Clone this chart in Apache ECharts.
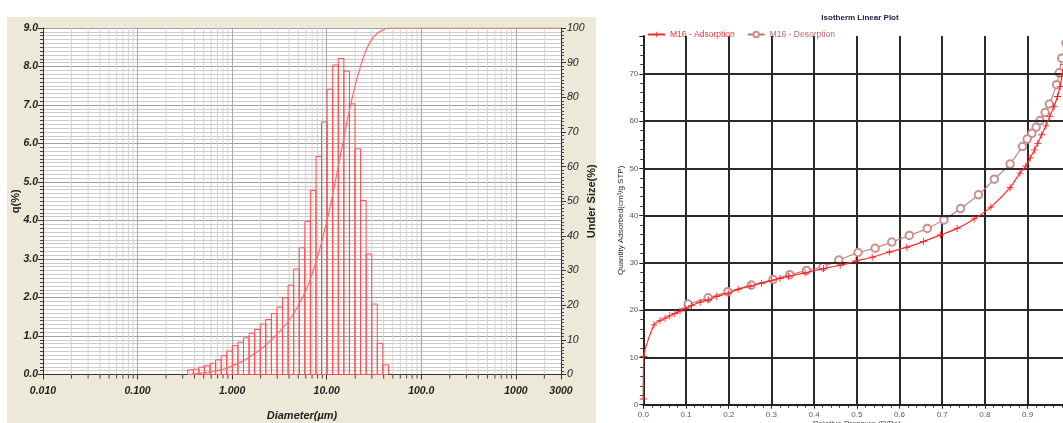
<!DOCTYPE html>
<html>
<head>
<meta charset="utf-8">
<script src="https://cdn.jsdelivr.net/npm/echarts@6/dist/echarts.min.js"></script>
<style>
  html, body { margin: 0; padding: 0; background: #fff; }
  #main { width: 1063px; height: 423px; }
</style>
</head>
<body>
<div id="main"></div>
<script>
// --- particle size distribution (left) ---
// bin edges in um (37 edges -> 36 bars)
var binEdges = [0.339, 0.389, 0.445, 0.510, 0.584, 0.669, 0.766, 0.877, 1.005, 1.151,
  1.318, 1.510, 1.729, 1.981, 2.269, 2.599, 2.976, 3.409, 3.905, 4.472, 5.122, 5.867,
  6.720, 7.697, 8.816, 10.097, 11.565, 13.246, 15.172, 17.377, 19.904, 22.797, 26.111,
  29.907, 34.255, 39.234, 44.938];
// q(%) per bin
var qValues = [0.12, 0.14, 0.19, 0.23, 0.29, 0.38, 0.49, 0.61, 0.75, 0.84, 0.95, 1.07,
  1.17, 1.31, 1.43, 1.58, 1.75, 1.99, 2.32, 2.74, 3.29, 3.97, 4.78, 5.66, 6.56, 7.41,
  8.04, 8.21, 7.88, 7.03, 5.86, 4.52, 3.13, 1.83, 0.81, 0.25];
// under size curve (%), read at the bin edges, then flat to 3000
var underX = [0.339, 0.389, 0.445, 0.510, 0.584, 0.669, 0.766, 0.877, 1.005, 1.151,
  1.318, 1.510, 1.729, 1.981, 2.269, 2.599, 2.976, 3.409, 3.905, 4.472, 5.122, 5.867,
  6.720, 7.697, 8.816, 10.097, 11.565, 13.246, 15.172, 17.377, 19.904, 22.797, 26.111,
  29.907, 34.255, 39.234, 44.938, 3000];
var underY = [0, 0.1, 0.3, 0.5, 0.7, 1.0, 1.4, 1.8, 2.5, 3.2, 4.0, 5.0, 6.1, 7.2, 8.5,
  10.0, 11.6, 13.3, 15.3, 17.6, 20.4, 23.6, 27.6, 32.4, 38.1, 44.6, 52.0, 60.1, 68.3,
  76.2, 83.2, 89.0, 93.6, 96.7, 98.5, 99.4, 100, 100];
var xTickLabels = { '0.01': '0.010', '0.1': '0.100', '1': '1.000', '10': '10.00',
  '100': '100.0', '1000': '1000', '3000': '3000' };
var decades = [0.01, 0.1, 1, 10, 100, 1000];

// --- isotherm (right) ---
var adsP = [0.000, 0.001, 0.025, 0.039, 0.051, 0.062, 0.074, 0.086, 0.098, 0.113, 0.133,
  0.152, 0.172, 0.199, 0.222, 0.250, 0.277, 0.301, 0.320, 0.340, 0.379, 0.422, 0.461,
  0.498, 0.536, 0.576, 0.617, 0.656, 0.696, 0.735, 0.775, 0.814, 0.859, 0.882, 0.896,
  0.906, 0.916, 0.924, 0.933, 0.943, 0.952, 0.962, 0.970, 0.976, 0.980, 0.985, 0.990];
var adsV = [1.2, 10.2, 16.9, 17.8, 18.3, 18.8, 19.3, 19.8, 20.4, 21.0, 21.7, 22.2, 22.9,
  23.6, 24.4, 25.1, 25.7, 26.3, 26.7, 27.2, 27.9, 28.8, 29.5, 30.4, 31.2, 32.3, 33.3,
  34.5, 35.9, 37.3, 39.3, 41.8, 45.9, 49.0, 50.5, 52.2, 53.9, 55.3, 57.1, 59.0, 61.0,
  63.1, 65.2, 67.3, 69.4, 72.0, 75.0];
var desP = [0.990, 0.980, 0.974, 0.968, 0.951, 0.941, 0.929, 0.920, 0.910, 0.899, 0.888,
  0.859, 0.822, 0.785, 0.743, 0.704, 0.665, 0.623, 0.582, 0.543, 0.503, 0.458, 0.421,
  0.382, 0.343, 0.304, 0.253, 0.198, 0.152, 0.105];
var desV = [76.5, 73.3, 70.2, 67.7, 63.6, 61.8, 60.1, 58.7, 57.4, 56.2, 54.6, 50.9, 47.7,
  44.4, 41.5, 39.1, 37.3, 35.8, 34.4, 33.1, 32.2, 30.6, 29.2, 28.4, 27.5, 26.5, 25.3,
  23.9, 22.6, 21.3];
var isoYTicks = [10, 20, 30, 40, 50, 60, 70];

function pairs(xs, ys) {
  var out = [];
  for (var i = 0; i < xs.length; i++) out.push([xs[i], ys[i]]);
  return out;
}

var barData = [];
for (var i = 0; i < qValues.length; i++) {
  barData.push([binEdges[i], binEdges[i + 1], qValues[i]]);
}

// minor log grid positions 2..9 x each decade
var minorX = [];
decades.forEach(function (d) {
  for (var k = 2; k <= 9; k++) {
    if (d * k < 3000) minorX.push([d * k]);
  }
});

var chart = echarts.init(document.getElementById('main'), null, { renderer: 'canvas' });

var leftFont = 'Liberation Sans, Arial, sans-serif';
var rightFont = 'Liberation Sans, Arial, sans-serif';

var option = {
  animation: false,
  backgroundColor: '#fff',
  graphic: [{
    type: 'rect', z: -100, silent: true,
    shape: { x: 7, y: 17, width: 589, height: 406 },
    style: { fill: '#ece9d8' }
  }, {
    type: 'rect', z: -90, silent: true,
    shape: { x: 43, y: 28, width: 518, height: 346.5 },
    style: { fill: '#ffffff' }
  }],
  title: {
    text: 'Isotherm Linear Plot',
    left: 855, top: 9, textAlign: 'center',
    textStyle: { fontSize: 8, fontWeight: 'bold', color: '#1c1c3c', fontFamily: rightFont }
  },
  legend: {
    left: 642, top: 25,
    itemWidth: 17, itemHeight: 7, itemGap: 12,
    textStyle: { fontSize: 8.5, fontFamily: rightFont },
    data: [
      { name: 'M16 - Adsorption', textStyle: { color: '#e83a3a' } },
      { name: 'M16 - Desorption', textStyle: { color: '#b46a6a' } }
    ]
  },
  grid: [
    { left: 43, width: 518, top: 28, height: 346.5, outerBoundsMode: 'none' },
    { left: 643.3, width: 427, top: 36, height: 368.7, outerBoundsMode: 'none' }
  ],
  xAxis: [{
    gridIndex: 0, type: 'log', logBase: 10, min: 0.01, max: 3000,
    axisLine: { lineStyle: { color: '#333', width: 1 } },
    axisTick: { length: 5, lineStyle: { color: '#333' } },
    axisLabel: {
      margin: 11, fontSize: 10.5, fontStyle: 'italic', fontWeight: 'bold', color: '#222',
      fontFamily: leftFont, showMaxLabel: true,
      formatter: function (v) {
        var key = String(Math.round(v * 1000) / 1000);
        return xTickLabels[key] !== undefined ? xTickLabels[key] : '';
      }
    },
    splitLine: { show: true, lineStyle: { color: '#a8a8a8', width: 1 } },
    name: 'Diameter(\u00b5m)', nameLocation: 'middle', nameGap: 36, nameMoveOverlap: false,
    nameTextStyle: { fontSize: 11, fontStyle: 'italic', fontWeight: 'bold', color: '#222', fontFamily: leftFont }
  }, {
    gridIndex: 1, type: 'value', min: 0, max: 1.0, interval: 0.1,
    axisLine: { lineStyle: { color: '#222', width: 2 } },
    axisTick: { length: 4, lineStyle: { color: '#222' } },
    minorTick: { show: true, splitNumber: 5, length: 3, lineStyle: { color: '#333' } },
    axisLabel: {
      margin: 6, fontSize: 8, color: '#5a5a4a', fontFamily: rightFont,
      formatter: function (v) { return v.toFixed(1); }
    },
    splitLine: { show: true, lineStyle: { color: '#2a2a2a', width: 2 } },
    name: 'Relative Pressure (P/Po)', nameLocation: 'middle', nameGap: 15, nameMoveOverlap: false,
    nameTextStyle: { fontSize: 8, color: '#444', fontFamily: rightFont }
  }],
  yAxis: [{
    gridIndex: 0, type: 'value', min: 0, max: 9, interval: 1,
    axisLine: { show: true, lineStyle: { color: '#333' } },
    axisTick: { length: 5, lineStyle: { color: '#333' } },
    minorTick: { show: true, splitNumber: 10, length: 3, lineStyle: { color: '#444' } },
    axisLabel: {
      margin: 5, fontSize: 10.5, fontStyle: 'italic', fontWeight: 'bold', color: '#222',
      fontFamily: leftFont, formatter: function (v) { return v.toFixed(1); }
    },
    splitLine: { show: true, lineStyle: { color: '#a0a0a0', width: 1 } },
    minorSplitLine: { show: true, lineStyle: { color: '#cdcdcd', width: 1 } },
    name: 'q(%)', nameLocation: 'middle', nameGap: 22, nameRotate: 90, nameMoveOverlap: false,
    nameTextStyle: { fontSize: 11, fontWeight: 'bold', color: '#222', fontFamily: leftFont }
  }, {
    gridIndex: 0, type: 'value', position: 'right', min: 0, max: 100, interval: 10,
    axisLine: { show: true, lineStyle: { color: '#333' } },
    axisTick: { length: 5, lineStyle: { color: '#333' } },
    minorTick: { show: true, splitNumber: 10, length: 3, lineStyle: { color: '#444' } },
    axisLabel: {
      margin: 6, fontSize: 10.5, fontStyle: 'italic', color: '#222', fontFamily: leftFont
    },
    splitLine: { show: false },
    name: 'Under Size(%)', nameLocation: 'middle', nameGap: 25, nameRotate: 90, nameMoveOverlap: false,
    nameTextStyle: { fontSize: 11, fontWeight: 'bold', color: '#222', fontFamily: leftFont }
  }, {
    gridIndex: 1, type: 'value', min: 0, max: 78, interval: 10,
    axisLine: { show: true, lineStyle: { color: '#222', width: 2 } },
    axisTick: { length: 4, lineStyle: { color: '#222' } },
    minorTick: { show: true, splitNumber: 5, length: 3, lineStyle: { color: '#333' } },
    axisLabel: { margin: 5, fontSize: 8, color: '#5a5a4a', fontFamily: rightFont, showMaxLabel: false },
    splitLine: { show: false },
    name: 'Quantity Adsorbed(cm\u00b3/g STP)', nameLocation: 'middle', nameGap: 19, nameRotate: 90,
    nameMoveOverlap: false,
    nameTextStyle: { fontSize: 8, color: '#2a2a2a', fontFamily: rightFont }
  }],
  series: [{
    // minor log gridlines + ticks on the diameter axis
    type: 'custom', name: 'grid', xAxisIndex: 0, yAxisIndex: 0, clip: false, silent: true, z: 1,
    data: minorX,
    encode: { x: 0 },
    renderItem: function (params, api) {
      var top = api.coord([api.value(0), 9]);
      var bot = api.coord([api.value(0), 0]);
      return {
        type: 'group',
        children: [{
          type: 'line',
          shape: { x1: top[0], y1: top[1], x2: bot[0], y2: bot[1] },
          style: { stroke: '#d4d4d4', lineWidth: 1 }
        }, {
          type: 'line',
          shape: { x1: bot[0], y1: bot[1], x2: bot[0], y2: bot[1] + 4 },
          style: { stroke: '#444', lineWidth: 1 }
        }]
      };
    }
  }, {
    type: 'custom', name: 'q', xAxisIndex: 0, yAxisIndex: 0, z: 3,
    data: barData,
    encode: { x: [0, 1], y: 2 },
    renderItem: function (params, api) {
      var p0 = api.coord([api.value(0), api.value(2)]);
      var p1 = api.coord([api.value(1), 0]);
      return {
        type: 'rect',
        shape: { x: p0[0], y: p0[1], width: p1[0] - p0[0], height: p1[1] - p0[1] },
        style: { fill: 'rgba(255,255,255,0)', stroke: '#ff4d4d', lineWidth: 1 }
      };
    }
  }, {
    type: 'line', name: 'Under Size', xAxisIndex: 0, yAxisIndex: 1, z: 4,
    data: pairs(underX, underY),
    showSymbol: false, smooth: 0.3,
    lineStyle: { color: '#ff6a6a', width: 1.2 }
  }, {
    type: 'line', name: 'M16 - Adsorption', xAxisIndex: 1, yAxisIndex: 2, z: 5,
    data: pairs(adsP, adsV),
    smooth: 0.2,
    symbol: 'path://M4.4,0H5.6V4.4H10V5.6H5.6V10H4.4V5.6H0V4.4H4.4Z', symbolSize: 7,
    itemStyle: { color: '#ff1a1a' },
    lineStyle: { color: '#ff2a2a', width: 1.2 }
  }, {
    type: 'line', name: 'M16 - Desorption', xAxisIndex: 1, yAxisIndex: 2, z: 4,
    data: pairs(desP, desV),
    smooth: 0.2,
    symbol: 'emptyCircle', symbolSize: 7.5,
    itemStyle: { color: '#c99090', borderWidth: 0.9 },
    lineStyle: { color: '#bc7676', width: 1.1 },
    markLine: {
      silent: true, symbol: 'none', label: { show: false }, animation: false,
      lineStyle: { color: '#2a2a2a', width: 2, type: 'solid' },
      data: isoYTicks.map(function (v) { return { yAxis: v }; })
    }
  }]
};

chart.setOption(option);
</script>
</body>
</html>
